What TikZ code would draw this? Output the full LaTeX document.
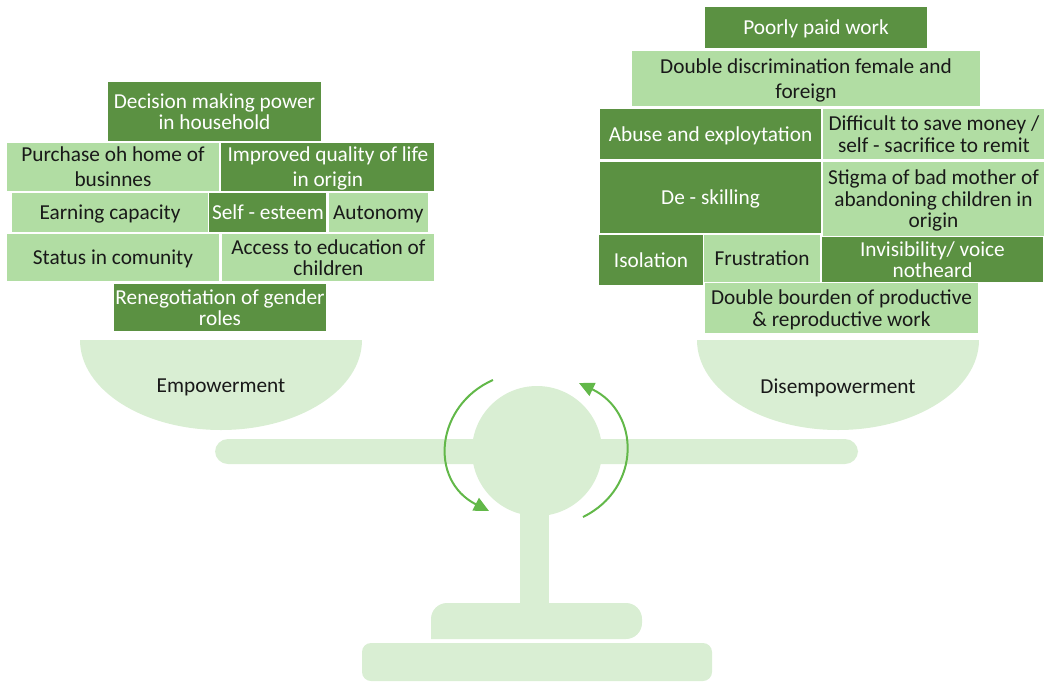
\documentclass[tikz,border=0pt]{standalone}
\usepackage{fontspec}
\setmainfont{Carlito}
\usetikzlibrary{positioning,arrows.meta}

\definecolor{darkgreen}{HTML}{5B9142}
\definecolor{lightgreen}{HTML}{B1DDA3}
\definecolor{palegreen}{HTML}{D9EED3}
\definecolor{arrowgreen}{HTML}{62B849}

\tikzset{
  item/.style={rectangle, inner sep=0pt, align=center, text depth=0pt, font=\fontsize{21.3}{21.5}\selectfont},
  darkbox/.style={item, fill=darkgreen, text=white},
  lightbox/.style={item, fill=lightgreen, text=black!90},
  wide/.style={font=\fontsize{21.3}{25}\selectfont},
  panlabel/.style={text depth=0pt, font=\fontsize{21.3}{21.5}\selectfont, text=black!90},
  turn/.style={draw=arrowgreen, line width=2pt, -{Triangle[length=15pt,width=14pt]}}
}

\begin{document}
\begin{tikzpicture}[x=1pt, y=-1pt, node distance=2pt]
  \useasboundingbox (0,0) rectangle (1053,681);

  % scale
  \fill[palegreen, rounded corners=13pt] (215,439) rectangle (858,464);
  \fill[palegreen] (537,451) circle (65);
  \fill[palegreen] (520,500) rectangle (549,606);
  \fill[palegreen, rounded corners=16pt] (431,639) -- (431,603) -- (642,603) -- (642,639) [sharp corners] -- cycle;
  \fill[palegreen, rounded corners=9pt] (362,643) rectangle (712,681);

  % pans
  \fill[palegreen] (80,340) arc[start angle=180, end angle=360, x radius=141, y radius=-90] -- cycle;
  \fill[palegreen] (697,340) arc[start angle=180, end angle=360, x radius=141, y radius=-90] -- cycle;
  \node[panlabel] (empower) at (221,386) {Empowerment};
  \node[panlabel] (disempower) at (838,386) {Disempowerment};

  % rotation arrows
  \coordinate (ltop) at (493,380);
  \coordinate (lbot) at (489,511);
  \coordinate (rbot) at (583,517);
  \coordinate (rtop) at (579,383);
  \draw[turn] (ltop) .. controls (436,405) and (428,480) .. (lbot);
  \draw[turn] (rbot) .. controls (642,488) and (640,412) .. (rtop);

  % empowerment side
  \node[darkbox, minimum width=213, minimum height=59] (decision) at (214.5,111.5) {Decision making power\\in household};
  \node[lightbox, wide, minimum width=212, minimum height=48] (purchase) at (113,167) {Purchase oh home of\\businnes};
  \node[darkbox, wide, minimum width=213, minimum height=48, right=of purchase] (quality) {Improved quality of life\\in origin};
  \node[lightbox, minimum width=196, minimum height=39] (earning) at (110,212.5) {Earning capacity};
  \node[darkbox, minimum width=117, minimum height=39, right=1pt of earning] (esteem) {Self - esteem};
  \node[lightbox, minimum width=99, minimum height=39, right=of esteem] (autonomy) {Autonomy};
  \node[lightbox, minimum width=212, minimum height=47] (status) at (113,257.5) {Status in comunity};
  \node[lightbox, minimum width=212, minimum height=47, right=3pt of status] (education) {Access to education of\\children};
  \node[darkbox, minimum width=212, minimum height=47] (gender) at (220,307.5) {Renegotiation of gender\\roles};

  % disempowerment side
  \node[darkbox, minimum width=222, minimum height=41] (poorly) at (816,27.5) {Poorly paid work};
  \node[lightbox, wide, minimum width=348, minimum height=55] (discrim) at (806,78.5) {Double discrimination female and\\foreign};
  \node[darkbox, minimum width=221, minimum height=50] (abuse) at (710.5,134) {Abuse and exploytation};
  \node[lightbox, minimum width=221, minimum height=50, right=of abuse] (saving) {Difficult to save money /\\self - sacrifice to remit};
  \node[darkbox, minimum width=221, minimum height=71] (deskill) at (710.5,197.5) {De - skilling};
  \node[lightbox, minimum width=221, minimum height=74] (stigma) at (933.5,199) {Stigma of bad mother of\\abandoning children in\\origin};
  \node[darkbox, minimum width=104, minimum height=50] (isolation) at (651,260) {Isolation};
  \node[lightbox, minimum width=116, minimum height=47] (frustration) at (762,258.5) {Frustration};
  \node[darkbox, minimum width=221, minimum height=45] (voice) at (932.5,259.5) {Invisibility/ voice\\notheard};
  \node[lightbox, minimum width=273, minimum height=50] (burden) at (841.5,308) {Double bourden of productive\\\& reproductive work};
\end{tikzpicture}
\end{document}
